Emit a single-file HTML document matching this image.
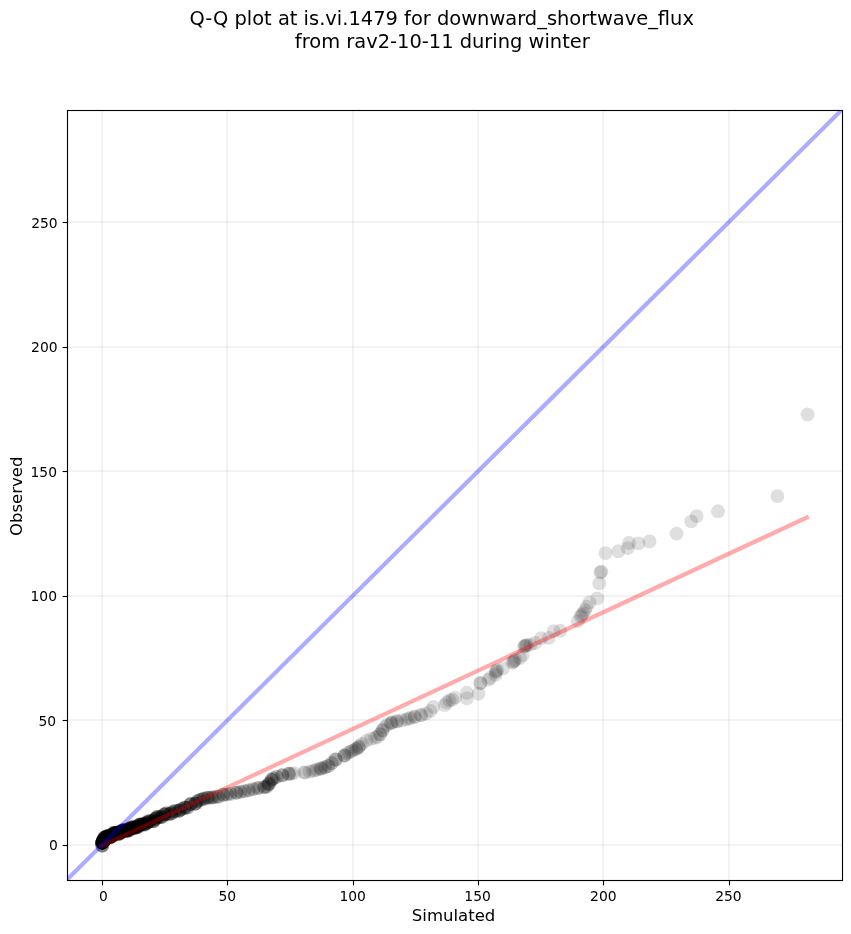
<!DOCTYPE html>
<html><head><meta charset="utf-8"><title>Q-Q plot</title>
<style>
html,body{margin:0;padding:0;background:#fff;}
body{width:851px;height:934px;overflow:hidden;}
svg{display:block;will-change:transform;}
text{font-family:"DejaVu Sans","Liberation Sans",sans-serif;fill:#000;}
.tick{font-size:13.89px;}
.lab{font-size:16.55px;}
.ttl{font-size:19.46px;}
</style></head><body>
<svg width="851" height="934" viewBox="0 0 851 934">
<rect x="0" y="0" width="851" height="934" fill="#fff"/>
<defs><clipPath id="ax"><rect x="67.5" y="110.5" width="775.0" height="770.0"/></clipPath></defs>

<g fill="#000" fill-opacity="0.047" shape-rendering="crispEdges">
<rect x="101" y="110.5" width="2" height="770.0"/>
<rect x="226" y="110.5" width="2" height="770.0"/>
<rect x="352" y="110.5" width="2" height="770.0"/>
<rect x="477" y="110.5" width="2" height="770.0"/>
<rect x="602" y="110.5" width="2" height="770.0"/>
<rect x="728" y="110.5" width="2" height="770.0"/>
<rect x="67.5" y="844" width="775.0" height="2"/>
<rect x="67.5" y="719" width="775.0" height="2"/>
<rect x="67.5" y="595" width="775.0" height="2"/>
<rect x="67.5" y="470" width="775.0" height="2"/>
<rect x="67.5" y="346" width="775.0" height="2"/>
<rect x="67.5" y="221" width="775.0" height="2"/>
</g>
<g clip-path="url(#ax)" fill="#000" fill-opacity="0.125">
<circle cx="102.7" cy="842.5" r="6.95"/>
<circle cx="103.1" cy="842.2" r="6.95"/>
<circle cx="103.0" cy="841.9" r="6.95"/>
<circle cx="103.1" cy="841.7" r="6.95"/>
<circle cx="103.0" cy="841.6" r="6.95"/>
<circle cx="102.6" cy="841.2" r="6.95"/>
<circle cx="102.7" cy="841.0" r="6.95"/>
<circle cx="103.3" cy="841.1" r="6.95"/>
<circle cx="103.0" cy="840.8" r="6.95"/>
<circle cx="103.1" cy="840.7" r="6.95"/>
<circle cx="103.7" cy="840.8" r="6.95"/>
<circle cx="103.4" cy="840.6" r="6.95"/>
<circle cx="103.8" cy="840.7" r="6.95"/>
<circle cx="103.6" cy="840.5" r="6.95"/>
<circle cx="103.8" cy="840.5" r="6.95"/>
<circle cx="103.6" cy="840.2" r="6.95"/>
<circle cx="103.8" cy="840.7" r="6.95"/>
<circle cx="104.0" cy="840.8" r="6.95"/>
<circle cx="103.9" cy="840.5" r="6.95"/>
<circle cx="104.1" cy="840.6" r="6.95"/>
<circle cx="104.2" cy="840.5" r="6.95"/>
<circle cx="103.9" cy="840.1" r="6.95"/>
<circle cx="104.3" cy="840.4" r="6.95"/>
<circle cx="104.3" cy="840.2" r="6.95"/>
<circle cx="104.2" cy="840.0" r="6.95"/>
<circle cx="104.1" cy="839.7" r="6.95"/>
<circle cx="104.6" cy="840.1" r="6.95"/>
<circle cx="104.4" cy="839.7" r="6.95"/>
<circle cx="104.6" cy="839.8" r="6.95"/>
<circle cx="104.8" cy="839.9" r="6.95"/>
<circle cx="104.6" cy="839.5" r="6.95"/>
<circle cx="104.8" cy="839.6" r="6.95"/>
<circle cx="104.3" cy="838.7" r="6.95"/>
<circle cx="104.7" cy="839.1" r="6.95"/>
<circle cx="104.3" cy="838.5" r="6.95"/>
<circle cx="104.8" cy="838.9" r="6.95"/>
<circle cx="104.8" cy="838.7" r="6.95"/>
<circle cx="104.0" cy="837.6" r="6.95"/>
<circle cx="104.1" cy="837.6" r="6.95"/>
<circle cx="104.4" cy="837.4" r="6.95"/>
<circle cx="105.1" cy="838.4" r="6.95"/>
<circle cx="104.8" cy="837.6" r="6.95"/>
<circle cx="105.0" cy="837.8" r="6.95"/>
<circle cx="104.8" cy="837.3" r="6.95"/>
<circle cx="105.1" cy="837.6" r="6.95"/>
<circle cx="105.1" cy="837.4" r="6.95"/>
<circle cx="105.2" cy="837.3" r="6.95"/>
<circle cx="105.5" cy="837.7" r="6.95"/>
<circle cx="105.6" cy="837.7" r="6.95"/>
<circle cx="106.0" cy="838.1" r="6.95"/>
<circle cx="105.9" cy="837.8" r="6.95"/>
<circle cx="106.2" cy="838.2" r="6.95"/>
<circle cx="106.3" cy="838.0" r="6.95"/>
<circle cx="106.5" cy="838.2" r="6.95"/>
<circle cx="106.3" cy="837.7" r="6.95"/>
<circle cx="106.1" cy="837.0" r="6.95"/>
<circle cx="106.7" cy="837.9" r="6.95"/>
<circle cx="106.8" cy="838.0" r="6.95"/>
<circle cx="106.9" cy="837.8" r="6.95"/>
<circle cx="106.7" cy="837.3" r="6.95"/>
<circle cx="106.9" cy="837.4" r="6.95"/>
<circle cx="106.6" cy="836.6" r="6.95"/>
<circle cx="107.1" cy="837.4" r="6.95"/>
<circle cx="107.0" cy="836.9" r="6.95"/>
<circle cx="106.9" cy="836.4" r="6.95"/>
<circle cx="106.8" cy="836.1" r="6.95"/>
<circle cx="107.5" cy="837.1" r="6.95"/>
<circle cx="107.6" cy="837.2" r="6.95"/>
<circle cx="107.1" cy="835.9" r="6.95"/>
<circle cx="107.7" cy="836.8" r="6.95"/>
<circle cx="107.5" cy="836.3" r="6.95"/>
<circle cx="107.4" cy="835.9" r="6.95"/>
<circle cx="107.6" cy="836.1" r="6.95"/>
<circle cx="108.2" cy="836.8" r="6.95"/>
<circle cx="108.4" cy="837.0" r="6.95"/>
<circle cx="107.9" cy="835.9" r="6.95"/>
<circle cx="108.5" cy="836.7" r="6.95"/>
<circle cx="108.2" cy="836.0" r="6.95"/>
<circle cx="108.8" cy="837.0" r="6.95"/>
<circle cx="108.8" cy="836.5" r="6.95"/>
<circle cx="109.3" cy="837.4" r="6.95"/>
<circle cx="109.5" cy="837.6" r="6.95"/>
<circle cx="109.2" cy="837.0" r="6.95"/>
<circle cx="109.7" cy="837.8" r="6.95"/>
<circle cx="109.4" cy="836.8" r="6.95"/>
<circle cx="109.4" cy="836.5" r="6.95"/>
<circle cx="109.8" cy="837.2" r="6.95"/>
<circle cx="109.6" cy="836.4" r="6.95"/>
<circle cx="109.8" cy="836.6" r="6.95"/>
<circle cx="110.0" cy="836.8" r="6.95"/>
<circle cx="110.2" cy="837.1" r="6.95"/>
<circle cx="110.0" cy="836.3" r="6.95"/>
<circle cx="110.1" cy="836.1" r="6.95"/>
<circle cx="110.6" cy="837.2" r="6.95"/>
<circle cx="110.4" cy="836.2" r="6.95"/>
<circle cx="110.8" cy="837.1" r="6.95"/>
<circle cx="110.9" cy="836.9" r="6.95"/>
<circle cx="110.7" cy="836.0" r="6.95"/>
<circle cx="110.8" cy="836.0" r="6.95"/>
<circle cx="110.9" cy="836.0" r="6.95"/>
<circle cx="111.1" cy="836.1" r="6.95"/>
<circle cx="111.1" cy="836.0" r="6.95"/>
<circle cx="111.2" cy="835.9" r="6.95"/>
<circle cx="111.3" cy="835.9" r="6.95"/>
<circle cx="111.7" cy="836.4" r="6.95"/>
<circle cx="111.5" cy="835.7" r="6.95"/>
<circle cx="111.6" cy="835.6" r="6.95"/>
<circle cx="111.9" cy="836.0" r="6.95"/>
<circle cx="111.7" cy="835.3" r="6.95"/>
<circle cx="111.9" cy="835.4" r="6.95"/>
<circle cx="112.4" cy="836.4" r="6.95"/>
<circle cx="112.3" cy="835.7" r="6.95"/>
<circle cx="112.4" cy="835.7" r="6.95"/>
<circle cx="112.2" cy="834.8" r="6.95"/>
<circle cx="112.6" cy="835.3" r="6.95"/>
<circle cx="112.7" cy="835.5" r="6.95"/>
<circle cx="112.5" cy="834.5" r="6.95"/>
<circle cx="112.9" cy="835.3" r="6.95"/>
<circle cx="113.0" cy="835.1" r="6.95"/>
<circle cx="112.7" cy="834.1" r="6.95"/>
<circle cx="113.1" cy="834.8" r="6.95"/>
<circle cx="113.1" cy="834.4" r="6.95"/>
<circle cx="113.3" cy="834.5" r="6.95"/>
<circle cx="113.2" cy="833.9" r="6.95"/>
<circle cx="113.4" cy="834.2" r="6.95"/>
<circle cx="113.5" cy="834.1" r="6.95"/>
<circle cx="113.2" cy="832.9" r="6.95"/>
<circle cx="113.3" cy="832.8" r="6.95"/>
<circle cx="113.8" cy="833.7" r="6.95"/>
<circle cx="114.1" cy="834.0" r="6.95"/>
<circle cx="113.8" cy="833.0" r="6.95"/>
<circle cx="114.0" cy="833.2" r="6.95"/>
<circle cx="114.3" cy="833.5" r="6.95"/>
<circle cx="114.2" cy="833.1" r="6.95"/>
<circle cx="114.5" cy="833.2" r="6.95"/>
<circle cx="114.6" cy="833.2" r="6.95"/>
<circle cx="114.8" cy="833.3" r="6.95"/>
<circle cx="115.1" cy="833.7" r="6.95"/>
<circle cx="115.1" cy="833.3" r="6.95"/>
<circle cx="115.3" cy="833.5" r="6.95"/>
<circle cx="115.7" cy="834.0" r="6.95"/>
<circle cx="115.4" cy="832.9" r="6.95"/>
<circle cx="115.8" cy="833.7" r="6.95"/>
<circle cx="116.1" cy="833.9" r="6.95"/>
<circle cx="115.9" cy="833.2" r="6.95"/>
<circle cx="116.0" cy="832.9" r="6.95"/>
<circle cx="116.5" cy="833.7" r="6.95"/>
<circle cx="116.2" cy="832.8" r="6.95"/>
<circle cx="116.3" cy="832.6" r="6.95"/>
<circle cx="116.6" cy="832.9" r="6.95"/>
<circle cx="116.9" cy="833.3" r="6.95"/>
<circle cx="116.7" cy="832.4" r="6.95"/>
<circle cx="117.0" cy="832.7" r="6.95"/>
<circle cx="117.2" cy="832.8" r="6.95"/>
<circle cx="117.6" cy="833.6" r="6.95"/>
<circle cx="117.6" cy="833.1" r="6.95"/>
<circle cx="118.0" cy="833.8" r="6.95"/>
<circle cx="117.9" cy="832.9" r="6.95"/>
<circle cx="118.1" cy="833.2" r="6.95"/>
<circle cx="118.5" cy="833.8" r="6.95"/>
<circle cx="118.8" cy="834.2" r="6.95"/>
<circle cx="118.8" cy="833.6" r="6.95"/>
<circle cx="118.8" cy="833.3" r="6.95"/>
<circle cx="118.9" cy="833.1" r="6.95"/>
<circle cx="119.3" cy="833.7" r="6.95"/>
<circle cx="119.2" cy="833.0" r="6.95"/>
<circle cx="119.6" cy="833.8" r="6.95"/>
<circle cx="119.8" cy="833.7" r="6.95"/>
<circle cx="119.6" cy="832.5" r="6.95"/>
<circle cx="119.7" cy="832.4" r="6.95"/>
<circle cx="120.1" cy="833.0" r="6.95"/>
<circle cx="120.1" cy="832.6" r="6.95"/>
<circle cx="120.3" cy="832.7" r="6.95"/>
<circle cx="120.3" cy="831.8" r="6.95"/>
<circle cx="120.3" cy="831.4" r="6.95"/>
<circle cx="120.5" cy="831.6" r="6.95"/>
<circle cx="120.9" cy="832.3" r="6.95"/>
<circle cx="120.8" cy="831.5" r="6.95"/>
<circle cx="121.1" cy="831.6" r="6.95"/>
<circle cx="121.3" cy="831.7" r="6.95"/>
<circle cx="121.5" cy="831.7" r="6.95"/>
<circle cx="121.6" cy="831.6" r="6.95"/>
<circle cx="122.0" cy="832.3" r="6.95"/>
<circle cx="121.8" cy="831.0" r="6.95"/>
<circle cx="122.0" cy="831.0" r="6.95"/>
<circle cx="122.3" cy="831.6" r="6.95"/>
<circle cx="122.4" cy="831.3" r="6.95"/>
<circle cx="122.6" cy="831.1" r="6.95"/>
<circle cx="122.6" cy="830.5" r="6.95"/>
<circle cx="122.8" cy="830.7" r="6.95"/>
<circle cx="123.0" cy="830.5" r="6.95"/>
<circle cx="122.9" cy="829.9" r="6.95"/>
<circle cx="123.3" cy="830.2" r="6.95"/>
<circle cx="123.5" cy="830.3" r="6.95"/>
<circle cx="123.7" cy="830.2" r="6.95"/>
<circle cx="123.9" cy="830.2" r="6.95"/>
<circle cx="124.0" cy="830.2" r="6.95"/>
<circle cx="124.3" cy="830.4" r="6.95"/>
<circle cx="124.5" cy="830.4" r="6.95"/>
<circle cx="124.7" cy="830.4" r="6.95"/>
<circle cx="125.1" cy="830.9" r="6.95"/>
<circle cx="125.2" cy="830.6" r="6.95"/>
<circle cx="125.6" cy="831.0" r="6.95"/>
<circle cx="125.6" cy="830.3" r="6.95"/>
<circle cx="125.9" cy="830.9" r="6.95"/>
<circle cx="126.1" cy="830.6" r="6.95"/>
<circle cx="126.2" cy="830.7" r="6.95"/>
<circle cx="126.5" cy="830.6" r="6.95"/>
<circle cx="126.7" cy="830.5" r="6.95"/>
<circle cx="126.8" cy="830.3" r="6.95"/>
<circle cx="126.9" cy="829.9" r="6.95"/>
<circle cx="127.3" cy="830.6" r="6.95"/>
<circle cx="127.5" cy="830.2" r="6.95"/>
<circle cx="127.7" cy="830.4" r="6.95"/>
<circle cx="128.1" cy="830.8" r="6.95"/>
<circle cx="128.3" cy="830.7" r="6.95"/>
<circle cx="128.4" cy="830.5" r="6.95"/>
<circle cx="128.8" cy="830.7" r="6.95"/>
<circle cx="128.8" cy="830.3" r="6.95"/>
<circle cx="128.9" cy="829.8" r="6.95"/>
<circle cx="129.0" cy="829.4" r="6.95"/>
<circle cx="129.3" cy="829.5" r="6.95"/>
<circle cx="129.4" cy="829.0" r="6.95"/>
<circle cx="129.6" cy="828.9" r="6.95"/>
<circle cx="129.7" cy="828.4" r="6.95"/>
<circle cx="129.9" cy="828.2" r="6.95"/>
<circle cx="130.2" cy="828.4" r="6.95"/>
<circle cx="130.5" cy="828.7" r="6.95"/>
<circle cx="130.6" cy="828.2" r="6.95"/>
<circle cx="131.0" cy="828.6" r="6.95"/>
<circle cx="131.3" cy="828.7" r="6.95"/>
<circle cx="131.5" cy="828.4" r="6.95"/>
<circle cx="131.7" cy="828.3" r="6.95"/>
<circle cx="131.6" cy="827.4" r="6.95"/>
<circle cx="132.0" cy="827.7" r="6.95"/>
<circle cx="132.3" cy="827.6" r="6.95"/>
<circle cx="132.3" cy="826.8" r="6.95"/>
<circle cx="132.6" cy="827.0" r="6.95"/>
<circle cx="132.9" cy="827.0" r="6.95"/>
<circle cx="133.3" cy="827.4" r="6.95"/>
<circle cx="133.6" cy="827.6" r="6.95"/>
<circle cx="134.0" cy="827.8" r="6.95"/>
<circle cx="134.4" cy="828.2" r="6.95"/>
<circle cx="134.5" cy="827.7" r="6.95"/>
<circle cx="134.9" cy="827.8" r="6.95"/>
<circle cx="135.1" cy="827.7" r="6.95"/>
<circle cx="135.3" cy="827.5" r="6.95"/>
<circle cx="135.5" cy="827.3" r="6.95"/>
<circle cx="136.0" cy="827.7" r="6.95"/>
<circle cx="136.2" cy="827.5" r="6.95"/>
<circle cx="136.3" cy="826.9" r="6.95"/>
<circle cx="136.8" cy="827.2" r="6.95"/>
<circle cx="137.1" cy="827.1" r="6.95"/>
<circle cx="137.4" cy="827.1" r="6.95"/>
<circle cx="137.7" cy="827.0" r="6.95"/>
<circle cx="138.0" cy="827.0" r="6.95"/>
<circle cx="138.2" cy="826.6" r="6.95"/>
<circle cx="138.2" cy="826.0" r="6.95"/>
<circle cx="138.4" cy="825.4" r="6.95"/>
<circle cx="138.6" cy="825.1" r="6.95"/>
<circle cx="138.7" cy="824.7" r="6.95"/>
<circle cx="139.2" cy="824.8" r="6.95"/>
<circle cx="139.5" cy="824.9" r="6.95"/>
<circle cx="139.8" cy="824.8" r="6.95"/>
<circle cx="140.1" cy="824.6" r="6.95"/>
<circle cx="140.5" cy="824.6" r="6.95"/>
<circle cx="140.9" cy="824.6" r="6.95"/>
<circle cx="141.2" cy="824.5" r="6.95"/>
<circle cx="141.5" cy="824.4" r="6.95"/>
<circle cx="141.7" cy="824.0" r="6.95"/>
<circle cx="142.2" cy="824.3" r="6.95"/>
<circle cx="142.6" cy="824.3" r="6.95"/>
<circle cx="143.1" cy="824.4" r="6.95"/>
<circle cx="143.5" cy="824.6" r="6.95"/>
<circle cx="144.0" cy="824.8" r="6.95"/>
<circle cx="144.5" cy="824.9" r="6.95"/>
<circle cx="144.7" cy="824.4" r="6.95"/>
<circle cx="145.0" cy="824.2" r="6.95"/>
<circle cx="145.2" cy="823.7" r="6.95"/>
<circle cx="145.4" cy="823.3" r="6.95"/>
<circle cx="145.9" cy="823.4" r="6.95"/>
<circle cx="146.4" cy="823.5" r="6.95"/>
<circle cx="146.6" cy="822.9" r="6.95"/>
<circle cx="147.0" cy="822.9" r="6.95"/>
<circle cx="147.3" cy="822.5" r="6.95"/>
<circle cx="147.6" cy="822.3" r="6.95"/>
<circle cx="147.9" cy="821.8" r="6.95"/>
<circle cx="148.0" cy="821.0" r="6.95"/>
<circle cx="148.6" cy="821.3" r="6.95"/>
<circle cx="149.1" cy="821.4" r="6.95"/>
<circle cx="149.4" cy="821.2" r="6.95"/>
<circle cx="150.0" cy="821.4" r="6.95"/>
<circle cx="150.9" cy="821.1" r="6.95"/>
<circle cx="150.8" cy="821.1" r="6.95"/>
<circle cx="153.5" cy="821.3" r="6.95"/>
<circle cx="153.4" cy="821.2" r="6.95"/>
<circle cx="153.5" cy="821.3" r="6.95"/>
<circle cx="153.4" cy="821.2" r="6.95"/>
<circle cx="153.4" cy="821.0" r="6.95"/>
<circle cx="155.2" cy="819.1" r="6.95"/>
<circle cx="155.2" cy="819.0" r="6.95"/>
<circle cx="155.1" cy="818.9" r="6.95"/>
<circle cx="155.2" cy="819.0" r="6.95"/>
<circle cx="155.2" cy="819.0" r="6.95"/>
<circle cx="157.1" cy="816.9" r="6.95"/>
<circle cx="157.2" cy="817.2" r="6.95"/>
<circle cx="157.1" cy="816.9" r="6.95"/>
<circle cx="157.0" cy="816.9" r="6.95"/>
<circle cx="157.2" cy="817.2" r="6.95"/>
<circle cx="158.4" cy="817.3" r="6.95"/>
<circle cx="158.5" cy="817.3" r="6.95"/>
<circle cx="160.8" cy="816.9" r="6.95"/>
<circle cx="160.8" cy="817.0" r="6.95"/>
<circle cx="160.8" cy="816.9" r="6.95"/>
<circle cx="160.8" cy="816.9" r="6.95"/>
<circle cx="162.3" cy="817.2" r="6.95"/>
<circle cx="162.2" cy="817.0" r="6.95"/>
<circle cx="164.5" cy="814.5" r="6.95"/>
<circle cx="164.4" cy="814.3" r="6.95"/>
<circle cx="164.6" cy="814.5" r="6.95"/>
<circle cx="164.6" cy="814.6" r="6.95"/>
<circle cx="164.4" cy="814.3" r="6.95"/>
<circle cx="166.3" cy="813.4" r="6.95"/>
<circle cx="166.2" cy="813.2" r="6.95"/>
<circle cx="166.2" cy="813.1" r="6.95"/>
<circle cx="168.7" cy="814.3" r="6.95"/>
<circle cx="168.7" cy="814.3" r="6.95"/>
<circle cx="168.7" cy="814.4" r="6.95"/>
<circle cx="171.4" cy="813.3" r="6.95"/>
<circle cx="171.4" cy="813.4" r="6.95"/>
<circle cx="171.4" cy="813.6" r="6.95"/>
<circle cx="171.4" cy="813.4" r="6.95"/>
<circle cx="172.4" cy="811.7" r="6.95"/>
<circle cx="172.4" cy="811.7" r="6.95"/>
<circle cx="175.3" cy="811.2" r="6.95"/>
<circle cx="175.3" cy="811.2" r="6.95"/>
<circle cx="175.2" cy="811.0" r="6.95"/>
<circle cx="175.2" cy="811.1" r="6.95"/>
<circle cx="179.1" cy="810.8" r="6.95"/>
<circle cx="179.1" cy="810.7" r="6.95"/>
<circle cx="179.1" cy="810.7" r="6.95"/>
<circle cx="179.1" cy="810.7" r="6.95"/>
<circle cx="179.2" cy="810.8" r="6.95"/>
<circle cx="181.1" cy="809.3" r="6.95"/>
<circle cx="181.1" cy="809.4" r="6.95"/>
<circle cx="181.1" cy="809.4" r="6.95"/>
<circle cx="184.8" cy="807.8" r="6.95"/>
<circle cx="184.8" cy="807.7" r="6.95"/>
<circle cx="184.8" cy="807.8" r="6.95"/>
<circle cx="184.7" cy="807.5" r="6.95"/>
<circle cx="184.8" cy="807.7" r="6.95"/>
<circle cx="187.5" cy="807.7" r="6.95"/>
<circle cx="187.5" cy="807.6" r="6.95"/>
<circle cx="187.5" cy="807.6" r="6.95"/>
<circle cx="190.7" cy="804.2" r="6.95"/>
<circle cx="190.6" cy="804.0" r="6.95"/>
<circle cx="190.6" cy="804.2" r="6.95"/>
<circle cx="190.6" cy="804.0" r="6.95"/>
<circle cx="190.7" cy="804.2" r="6.95"/>
<circle cx="195.5" cy="803.7" r="6.95"/>
<circle cx="195.5" cy="803.7" r="6.95"/>
<circle cx="195.4" cy="803.5" r="6.95"/>
<circle cx="195.4" cy="803.5" r="6.95"/>
<circle cx="195.5" cy="803.6" r="6.95"/>
<circle cx="197.5" cy="801.0" r="6.95"/>
<circle cx="197.5" cy="801.1" r="6.95"/>
<circle cx="197.5" cy="801.1" r="6.95"/>
<circle cx="200.3" cy="799.7" r="6.95"/>
<circle cx="200.4" cy="799.8" r="6.95"/>
<circle cx="200.4" cy="799.8" r="6.95"/>
<circle cx="203.5" cy="798.8" r="6.95"/>
<circle cx="203.6" cy="798.9" r="6.95"/>
<circle cx="203.6" cy="798.9" r="6.95"/>
<circle cx="102.3" cy="845.5" r="6.95"/>
<circle cx="102.3" cy="845.5" r="6.95"/>
<circle cx="102.3" cy="845.5" r="6.95"/>
<circle cx="102.3" cy="845.5" r="6.95"/>
<circle cx="102.3" cy="845.5" r="6.95"/>
<circle cx="102.3" cy="842.7" r="6.95"/>
<circle cx="102.3" cy="842.7" r="6.95"/>
<circle cx="102.3" cy="842.7" r="6.95"/>
<circle cx="102.3" cy="842.7" r="6.95"/>
<circle cx="102.3" cy="842.7" r="6.95"/>
<circle cx="102.3" cy="842.7" r="6.95"/>
<circle cx="102.3" cy="842.7" r="6.95"/>
<circle cx="102.3" cy="842.7" r="6.95"/>
<circle cx="102.3" cy="842.7" r="6.95"/>
<circle cx="102.3" cy="842.7" r="6.95"/>
<circle cx="102.3" cy="842.7" r="6.95"/>
<circle cx="102.3" cy="842.7" r="6.95"/>
<circle cx="102.3" cy="842.7" r="6.95"/>
<circle cx="102.3" cy="842.7" r="6.95"/>
<circle cx="102.3" cy="842.7" r="6.95"/>
<circle cx="102.3" cy="842.7" r="6.95"/>
<circle cx="102.3" cy="842.7" r="6.95"/>
<circle cx="102.3" cy="842.7" r="6.95"/>
<circle cx="102.8" cy="840.8" r="6.95"/>
<circle cx="102.8" cy="840.8" r="6.95"/>
<circle cx="102.8" cy="840.8" r="6.95"/>
<circle cx="102.8" cy="840.8" r="6.95"/>
<circle cx="102.8" cy="840.8" r="6.95"/>
<circle cx="102.8" cy="840.8" r="6.95"/>
<circle cx="204.0" cy="798.4" r="6.95"/>
<circle cx="207.6" cy="797.7" r="6.95"/>
<circle cx="207.4" cy="797.7" r="6.95"/>
<circle cx="207.6" cy="797.6" r="6.95"/>
<circle cx="208.9" cy="797.7" r="6.95"/>
<circle cx="211.4" cy="797.7" r="6.95"/>
<circle cx="211.1" cy="797.6" r="6.95"/>
<circle cx="212.6" cy="797.4" r="6.95"/>
<circle cx="213.7" cy="797.3" r="6.95"/>
<circle cx="214.9" cy="797.1" r="6.95"/>
<circle cx="217.6" cy="796.8" r="6.95"/>
<circle cx="217.8" cy="796.7" r="6.95"/>
<circle cx="219.0" cy="796.6" r="6.95"/>
<circle cx="223.3" cy="794.9" r="6.95"/>
<circle cx="223.5" cy="794.8" r="6.95"/>
<circle cx="223.3" cy="794.8" r="6.95"/>
<circle cx="227.0" cy="794.4" r="6.95"/>
<circle cx="227.1" cy="794.4" r="6.95"/>
<circle cx="230.6" cy="793.9" r="6.95"/>
<circle cx="230.7" cy="793.9" r="6.95"/>
<circle cx="236.3" cy="792.7" r="6.95"/>
<circle cx="236.4" cy="792.7" r="6.95"/>
<circle cx="236.3" cy="792.7" r="6.95"/>
<circle cx="240.4" cy="791.9" r="6.95"/>
<circle cx="240.2" cy="791.9" r="6.95"/>
<circle cx="244.4" cy="791.2" r="6.95"/>
<circle cx="244.6" cy="791.3" r="6.95"/>
<circle cx="248.6" cy="790.4" r="6.95"/>
<circle cx="248.7" cy="790.2" r="6.95"/>
<circle cx="253.2" cy="789.1" r="6.95"/>
<circle cx="253.1" cy="789.1" r="6.95"/>
<circle cx="257.6" cy="788.1" r="6.95"/>
<circle cx="257.5" cy="788.1" r="6.95"/>
<circle cx="259.6" cy="787.8" r="6.95"/>
<circle cx="264.4" cy="787.0" r="6.95"/>
<circle cx="264.4" cy="787.2" r="6.95"/>
<circle cx="264.3" cy="787.1" r="6.95"/>
<circle cx="266.7" cy="786.6" r="6.95"/>
<circle cx="266.8" cy="786.7" r="6.95"/>
<circle cx="268.8" cy="784.3" r="6.95"/>
<circle cx="268.7" cy="784.3" r="6.95"/>
<circle cx="268.6" cy="784.2" r="6.95"/>
<circle cx="269.3" cy="783.3" r="6.95"/>
<circle cx="269.7" cy="782.3" r="6.95"/>
<circle cx="271.7" cy="779.6" r="6.95"/>
<circle cx="271.8" cy="779.6" r="6.95"/>
<circle cx="271.7" cy="779.8" r="6.95"/>
<circle cx="273.6" cy="778.1" r="6.95"/>
<circle cx="273.5" cy="778.3" r="6.95"/>
<circle cx="276.8" cy="776.7" r="6.95"/>
<circle cx="276.8" cy="777.0" r="6.95"/>
<circle cx="282.3" cy="775.3" r="6.95"/>
<circle cx="282.3" cy="775.2" r="6.95"/>
<circle cx="282.4" cy="775.3" r="6.95"/>
<circle cx="288.7" cy="773.8" r="6.95"/>
<circle cx="288.8" cy="773.8" r="6.95"/>
<circle cx="288.9" cy="773.8" r="6.95"/>
<circle cx="291.3" cy="773.6" r="6.95"/>
<circle cx="294.0" cy="773.2" r="6.95"/>
<circle cx="304.8" cy="772.6" r="6.95"/>
<circle cx="304.5" cy="772.4" r="6.95"/>
<circle cx="309.6" cy="771.6" r="6.95"/>
<circle cx="312.8" cy="770.9" r="6.95"/>
<circle cx="315.1" cy="770.3" r="6.95"/>
<circle cx="317.2" cy="769.5" r="6.95"/>
<circle cx="320.5" cy="768.8" r="6.95"/>
<circle cx="320.6" cy="768.5" r="6.95"/>
<circle cx="322.1" cy="768.3" r="6.95"/>
<circle cx="325.2" cy="767.3" r="6.95"/>
<circle cx="324.9" cy="767.3" r="6.95"/>
<circle cx="328.4" cy="766.0" r="6.95"/>
<circle cx="328.3" cy="766.0" r="6.95"/>
<circle cx="331.9" cy="763.1" r="6.95"/>
<circle cx="331.8" cy="763.0" r="6.95"/>
<circle cx="335.7" cy="759.5" r="6.95"/>
<circle cx="335.6" cy="759.5" r="6.95"/>
<circle cx="335.8" cy="759.5" r="6.95"/>
<circle cx="344.5" cy="755.6" r="6.95"/>
<circle cx="344.4" cy="755.5" r="6.95"/>
<circle cx="344.4" cy="755.6" r="6.95"/>
<circle cx="346.9" cy="753.4" r="6.95"/>
<circle cx="349.3" cy="752.3" r="6.95"/>
<circle cx="351.5" cy="751.2" r="6.95"/>
<circle cx="353.1" cy="750.4" r="6.95"/>
<circle cx="356.1" cy="748.9" r="6.95"/>
<circle cx="356.1" cy="749.0" r="6.95"/>
<circle cx="358.5" cy="747.3" r="6.95"/>
<circle cx="358.6" cy="747.4" r="6.95"/>
<circle cx="359.8" cy="745.7" r="6.95"/>
<circle cx="362.2" cy="743.7" r="6.95"/>
<circle cx="366.6" cy="740.7" r="6.95"/>
<circle cx="371.0" cy="738.9" r="6.95"/>
<circle cx="374.9" cy="737.8" r="6.95"/>
<circle cx="377.3" cy="737.0" r="6.95"/>
<circle cx="379.9" cy="734.3" r="6.95"/>
<circle cx="380.0" cy="734.3" r="6.95"/>
<circle cx="382.6" cy="730.3" r="6.95"/>
<circle cx="382.4" cy="730.3" r="6.95"/>
<circle cx="384.3" cy="727.1" r="6.95"/>
<circle cx="387.5" cy="724.7" r="6.95"/>
<circle cx="391.1" cy="722.9" r="6.95"/>
<circle cx="391.1" cy="722.9" r="6.95"/>
<circle cx="392.8" cy="722.4" r="6.95"/>
<circle cx="396.9" cy="721.4" r="6.95"/>
<circle cx="397.0" cy="721.3" r="6.95"/>
<circle cx="401.5" cy="720.5" r="6.95"/>
<circle cx="405.9" cy="719.6" r="6.95"/>
<circle cx="408.4" cy="718.5" r="6.95"/>
<circle cx="410.5" cy="718.0" r="6.95"/>
<circle cx="414.7" cy="716.8" r="6.95"/>
<circle cx="414.6" cy="716.8" r="6.95"/>
<circle cx="421.1" cy="715.2" r="6.95"/>
<circle cx="421.1" cy="715.0" r="6.95"/>
<circle cx="426.1" cy="713.6" r="6.95"/>
<circle cx="430.3" cy="711.0" r="6.95"/>
<circle cx="433.4" cy="707.0" r="6.95"/>
<circle cx="807.5" cy="414.5" r="6.95"/>
<circle cx="777.4" cy="496.1" r="6.95"/>
<circle cx="718.0" cy="511.3" r="6.95"/>
<circle cx="696.7" cy="516.1" r="6.95"/>
<circle cx="691.2" cy="521.4" r="6.95"/>
<circle cx="676.6" cy="533.6" r="6.95"/>
<circle cx="649.5" cy="541.5" r="6.95"/>
<circle cx="638.4" cy="543.4" r="6.95"/>
<circle cx="629.0" cy="543.0" r="6.95"/>
<circle cx="627.7" cy="548.2" r="6.95"/>
<circle cx="618.3" cy="551.3" r="6.95"/>
<circle cx="605.5" cy="553.1" r="6.95"/>
<circle cx="601.4" cy="571.6" r="6.95"/>
<circle cx="600.4" cy="572.5" r="6.95"/>
<circle cx="599.3" cy="583.4" r="6.95"/>
<circle cx="597.3" cy="598.4" r="6.95"/>
<circle cx="589.5" cy="602.4" r="6.95"/>
<circle cx="586.8" cy="606.8" r="6.95"/>
<circle cx="585.0" cy="610.3" r="6.95"/>
<circle cx="583.2" cy="613.2" r="6.95"/>
<circle cx="581.6" cy="615.0" r="6.95"/>
<circle cx="580.6" cy="616.6" r="6.95"/>
<circle cx="577.8" cy="621.2" r="6.95"/>
<circle cx="560.3" cy="630.8" r="6.95"/>
<circle cx="553.7" cy="631.1" r="6.95"/>
<circle cx="548.7" cy="637.9" r="6.95"/>
<circle cx="541.0" cy="638.3" r="6.95"/>
<circle cx="534.9" cy="643.0" r="6.95"/>
<circle cx="530.2" cy="644.9" r="6.95"/>
<circle cx="526.9" cy="644.9" r="6.95"/>
<circle cx="525.5" cy="645.8" r="6.95"/>
<circle cx="524.0" cy="646.7" r="6.95"/>
<circle cx="522.7" cy="655.2" r="6.95"/>
<circle cx="519.9" cy="658.0" r="6.95"/>
<circle cx="515.2" cy="659.9" r="6.95"/>
<circle cx="513.3" cy="661.8" r="6.95"/>
<circle cx="512.4" cy="662.7" r="6.95"/>
<circle cx="503.0" cy="668.4" r="6.95"/>
<circle cx="497.3" cy="670.2" r="6.95"/>
<circle cx="496.0" cy="672.1" r="6.95"/>
<circle cx="495.5" cy="674.9" r="6.95"/>
<circle cx="490.4" cy="677.8" r="6.95"/>
<circle cx="488.5" cy="679.6" r="6.95"/>
<circle cx="480.4" cy="683.0" r="6.95"/>
<circle cx="478.5" cy="693.7" r="6.95"/>
<circle cx="466.9" cy="692.8" r="6.95"/>
<circle cx="466.9" cy="698.4" r="6.95"/>
<circle cx="455.1" cy="697.6" r="6.95"/>
<circle cx="449.5" cy="700.4" r="6.95"/>
<circle cx="446.6" cy="702.3" r="6.95"/>
<circle cx="444.8" cy="705.1" r="6.95"/>
<circle cx="452.3" cy="699.7" r="6.95"/>
<circle cx="525.0" cy="645.6" r="6.95"/>
<circle cx="496.0" cy="671.0" r="6.95"/>
<circle cx="514.0" cy="661.2" r="6.95"/>
<circle cx="480.5" cy="683.2" r="6.95"/>
</g>
<g clip-path="url(#ax)" fill="none" stroke-width="4.17" stroke-opacity="0.33" stroke-linecap="square">
<line x1="101.9" y1="845.8" x2="806.85" y2="517.45" stroke="#f00"/>
<line x1="58.92" y1="887.7" x2="849.42" y2="102.3" stroke="#00f"/>
</g>
<rect x="67.5" y="110.5" width="775.0" height="770.0" fill="none" stroke="#000" stroke-width="1.11" stroke-linejoin="miter"/>
<g stroke="#000" stroke-width="1.11">
<line x1="102.5" y1="880.5" x2="102.5" y2="885.36"/>
<line x1="67.5" y1="845.5" x2="62.64" y2="845.5"/>
<line x1="227.5" y1="880.5" x2="227.5" y2="885.36"/>
<line x1="67.5" y1="720.5" x2="62.64" y2="720.5"/>
<line x1="353.5" y1="880.5" x2="353.5" y2="885.36"/>
<line x1="67.5" y1="596.5" x2="62.64" y2="596.5"/>
<line x1="478.5" y1="880.5" x2="478.5" y2="885.36"/>
<line x1="67.5" y1="471.5" x2="62.64" y2="471.5"/>
<line x1="603.5" y1="880.5" x2="603.5" y2="885.36"/>
<line x1="67.5" y1="347.5" x2="62.64" y2="347.5"/>
<line x1="729.5" y1="880.5" x2="729.5" y2="885.36"/>
<line x1="67.5" y1="222.5" x2="62.64" y2="222.5"/>
</g>
<text class="tick" x="103.40" y="900.80" text-anchor="middle">0</text>
<text class="tick" x="57.75" y="850.30" text-anchor="end">0</text>
<text class="tick" x="227.36" y="900.80" text-anchor="middle">50</text>
<text class="tick" x="56.20" y="725.74" text-anchor="end">50</text>
<text class="tick" x="352.63" y="900.80" text-anchor="middle">100</text>
<text class="tick" x="57.00" y="601.19" text-anchor="end">100</text>
<text class="tick" x="477.59" y="900.80" text-anchor="middle">150</text>
<text class="tick" x="57.00" y="476.63" text-anchor="end">150</text>
<text class="tick" x="603.36" y="900.80" text-anchor="middle">200</text>
<text class="tick" x="57.55" y="352.08" text-anchor="end">200</text>
<text class="tick" x="728.42" y="900.80" text-anchor="middle">250</text>
<text class="tick" x="57.65" y="227.52" text-anchor="end">250</text>
<text class="lab" x="453.6" y="921" text-anchor="middle">Simulated</text>
<text class="lab" transform="translate(21.55,496.3) rotate(-90)" text-anchor="middle">Observed</text>
<text class="ttl" x="441.7" y="24.7" text-anchor="middle">Q-Q plot at is.vi.1479 for downward_shortwave_flux</text>
<text class="ttl" x="442.3" y="48.15" text-anchor="middle">from rav2-10-11 during winter</text>
</svg></body></html>
